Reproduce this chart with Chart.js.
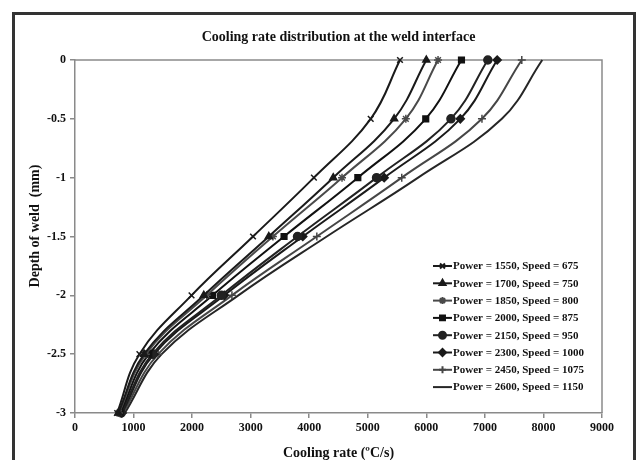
<!DOCTYPE html>
<html lang="en">
<head>
<meta charset="UTF-8">
<title>Cooling rate distribution at the weld interface</title>
<script src="https://cdn.jsdelivr.net/npm/chart.js"></script>
<style>
  html, body { margin: 0; padding: 0; background: #fff; }
  #wrap { position: relative; width: 638px; height: 460px; }
</style>
</head>
<body>
<div id="wrap"><canvas id="chart"></canvas></div>
<script>
// depth of weld (mm) at each sample
const depth = [0, -0.5, -1, -1.5, -2, -2.5, -3];

// cooling rate (C/s) per parameter set, same order as depth
const rate1550 = [5550, 5050, 4080, 3040, 1990, 1100, 720];
const rate1700 = [6000, 5450, 4410, 3310, 2200, 1180, 740];
const rate1850 = [6200, 5650, 4560, 3380, 2250, 1210, 750];
const rate2000 = [6600, 5990, 4830, 3570, 2350, 1260, 770];
const rate2150 = [7050, 6420, 5150, 3800, 2500, 1320, 790];
const rate2300 = [7210, 6580, 5280, 3890, 2550, 1350, 800];
const rate2450 = [7630, 6950, 5580, 4130, 2680, 1420, 820];
const rate2600 = [7980, 7290, 5860, 4300, 2790, 1480, 850];

const seriesLabels = [
    'Power = 1550, Speed = 675',
    'Power = 1700, Speed = 750',
    'Power = 1850, Speed = 800',
    'Power = 2000, Speed = 875',
    'Power = 2150, Speed = 950',
    'Power = 2300, Speed = 1000',
    'Power = 2450, Speed = 1075',
    'Power = 2600, Speed = 1150'
];
const seriesRates = [rate1550, rate1700, rate1850, rate2000, rate2150, rate2300, rate2450, rate2600];
const markers = ['crossRot', 'triangle', 'star', 'rect', 'circle', 'rectRot', 'cross', false];
const colors = ['#1a1a1a', '#1a1a1a', '#4a4a4a', '#111111', '#222222', '#1a1a1a', '#464646', '#262626'];

const serif = '"Liberation Serif", "Times New Roman", serif';

const datasets = seriesRates.map((r, i) => ({
    label: seriesLabels[i],
    data: r.map((v, j) => ({ x: v, y: depth[j] })),
    borderColor: colors[i],
    backgroundColor: colors[i],
    borderWidth: 2,
    pointStyle: markers[i],
    pointRadius: markers[i] ? 4 : 0,
    pointBorderWidth: 1.5,
    showLine: true,
    tension: 0.4,
    clip: false,
    fill: false
}));

// frame, titles, plot box and in-plot legend
const decorPlugin = {
    id: 'decor',
    beforeDraw(chart) {
        const ctx = chart.ctx;
        ctx.save();
        ctx.fillStyle = '#fff';
        ctx.fillRect(0, 0, chart.width, chart.height);
        ctx.strokeStyle = '#333';
        ctx.lineWidth = 3;
        ctx.strokeRect(13.5, 13.5, 621, 470);
        ctx.restore();
    },
    beforeDatasetsDraw(chart) {
        const ctx = chart.ctx;
        const a = chart.chartArea;
        ctx.save();
        ctx.strokeStyle = '#8a8a8a';
        ctx.lineWidth = 1.5;
        ctx.beginPath();
        ctx.moveTo(a.left, a.top);
        ctx.lineTo(a.right, a.top);
        ctx.lineTo(a.right, a.bottom);
        ctx.stroke();
        ctx.restore();
    },
    afterDraw(chart) {
        const ctx = chart.ctx;
        const a = chart.chartArea;
        ctx.save();
        ctx.fillStyle = '#111';
        ctx.textAlign = 'center';
        ctx.textBaseline = 'middle';
        ctx.font = 'bold 14px ' + serif;
        ctx.fillText('Cooling rate distribution at the weld interface', (a.left + a.right) / 2, 37);
        ctx.fillText('Cooling rate (\u00baC/s)', (a.left + a.right) / 2, 453);

        ctx.save();
        ctx.translate(35, 226);
        ctx.rotate(-Math.PI / 2);
        ctx.fillText('Depth of weld  (mm)', 0, 0);
        ctx.restore();

        // legend
        ctx.font = 'bold 11px ' + serif;
        ctx.textAlign = 'left';
        chart.data.datasets.forEach((ds, i) => {
            const y = 266 + i * 17.3;
            ctx.strokeStyle = ds.borderColor;
            ctx.lineWidth = 2;
            ctx.beginPath();
            ctx.moveTo(433, y);
            ctx.lineTo(452, y);
            ctx.stroke();
            if (ds.pointStyle) {
                ctx.fillStyle = ds.borderColor;
                Chart.helpers.drawPoint(ctx, {
                    pointStyle: ds.pointStyle, radius: 3.5, rotation: 0, borderWidth: 1.5
                }, 442.5, y);
            }
            ctx.fillStyle = '#111';
            ctx.fillText(ds.label, 453, y + 0.5);
        });
        ctx.restore();
    }
};

new Chart(document.getElementById('chart'), {
    type: 'scatter',
    data: { datasets },
    options: {
        responsive: true,
        maintainAspectRatio: false,
        animation: false,
        events: [],
        layout: { padding: { left: 0, top: 60, right: 36, bottom: 0 } },
        plugins: { legend: { display: false }, tooltip: { enabled: false } },
        scales: {
            x: {
                type: 'linear',
                min: 0, max: 9000,
                ticks: {
                    stepSize: 1000, color: '#111', padding: 3,
                    font: { family: serif, size: 12, weight: 'bold' },
                    callback: v => String(v)
                },
                grid: { drawOnChartArea: false, drawTicks: true, tickLength: 5, color: '#8a8a8a', lineWidth: 1.5 },
                border: { color: '#8a8a8a', width: 1.5 },
                afterFit: s => { s.height = 47; }
            },
            y: {
                type: 'linear',
                min: -3, max: 0,
                ticks: {
                    stepSize: 0.5, color: '#111', padding: 4,
                    font: { family: serif, size: 12, weight: 'bold' },
                    callback: v => String(v)
                },
                grid: { drawOnChartArea: false, drawTicks: true, tickLength: 5, color: '#8a8a8a', lineWidth: 1.5 },
                border: { color: '#8a8a8a', width: 1.5 },
                afterFit: s => { s.width = 75; }
            }
        }
    },
    plugins: [decorPlugin]
});
</script>
</body>
</html>
